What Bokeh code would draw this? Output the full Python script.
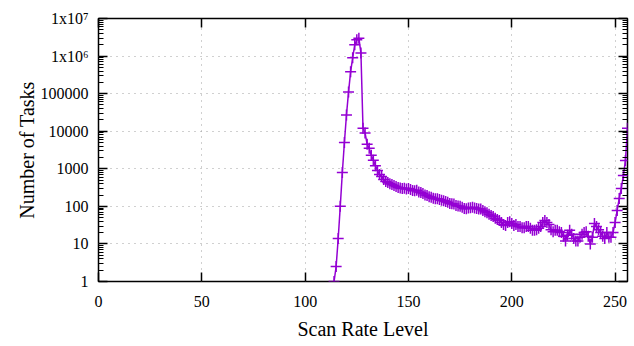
from bokeh.plotting import figure
from bokeh.models import FixedTicker, LogAxis, LinearAxis, Range1d, ColumnDataSource, CustomJSTickFormatter
from bokeh.embed import file_html
from bokeh.resources import INLINE

# Scan rate levels (x) and number of tasks at each level (y)
levels = list(range(114, 257))
tasks = [
    1, 2.5, 14, 100, 800, 5000, 27000, 110000, 380000, 900000,          # 114-123
    2000000, 2700000, 3000000, 1200000, 12000, 9000, 4500, 3500, 2300, 1700,  # 124-133
    1200, 900, 700, 620, 520, 460, 430, 400, 380, 360,                    # 134-143
    340, 320, 310, 300, 305, 290, 300, 280, 265, 260,                     # 144-153
    270, 240, 235, 220, 200, 195, 180, 175, 165, 160,                     # 154-163
    160, 152, 145, 140, 135, 128, 120, 118, 115, 105,                     # 164-173
    102, 100, 95, 88, 87, 90, 92, 95, 90, 88,                             # 174-183
    85, 85, 78, 72, 68, 62, 57, 54, 48, 45,                               # 184-193
    42, 37, 33, 31, 37, 39, 35, 31, 33, 29,                               # 194-203
    29, 27, 27, 29, 29, 26, 23, 23, 24, 26,                               # 204-213
    29, 37, 42, 37, 33, 24, 21, 23, 23, 21,                               # 214-223
    20, 16, 12, 17, 23, 18, 14, 12, 12, 15,                               # 224-233
    18, 20, 21, 16, 10, 15, 35, 29, 24, 20,                               # 234-243
    16, 14, 20, 15, 15, 20, 37, 78, 162, 300,                             # 244-253
    660, 1650, 12000,                                                     # 254-256
]

x_ticks = [0, 50, 100, 150, 200, 250]
y_ticks = [1, 10, 100, 1000, 10000, 100000, 1000000, 10000000]
y_tick_labels = ["1", "10", "100", "1000", "10000", "100000", "1x10\u2076", "1x10\u2077"]
y_minor = [m * 10 ** k for k in range(7) for m in range(2, 10)]

FONT = "Liberation Serif"
PURPLE = "#9400d3"

p = figure(
    frame_width=529, frame_height=263,
    y_axis_type="log",
    x_range=Range1d(0, 256), y_range=Range1d(1, 1e7),
    output_backend="svg", toolbar_location=None,
    min_border_left=98, min_border_right=4, min_border_top=18, min_border_bottom=57,
    background_fill_color="white", border_fill_color="white",
)

xt = FixedTicker(ticks=x_ticks, minor_ticks=[])
yt = FixedTicker(ticks=y_ticks, minor_ticks=y_minor)

p.xaxis.ticker = xt
p.yaxis.ticker = yt
p.yaxis.major_label_overrides = {t: l for t, l in zip(y_ticks, y_tick_labels)}

for ax in (p.xaxis[0], p.yaxis[0]):
    ax.major_tick_in = 9
    ax.major_tick_out = 0
    ax.minor_tick_in = 5
    ax.minor_tick_out = 0
    ax.major_tick_line_color = "black"
    ax.minor_tick_line_color = "black"
    ax.major_tick_line_width = 1.5
    ax.axis_line_color = None
    ax.major_label_text_font = FONT
    ax.major_label_text_font_size = "16px"
    ax.major_label_text_color = "black"
    ax.axis_label_text_font = FONT
    ax.axis_label_text_font_size = "20px"
    ax.axis_label_text_font_style = "normal"
    ax.axis_label_text_color = "black"

p.xaxis.axis_label = "Scan Rate Level"
p.yaxis.axis_label = "Number of Tasks"
p.xaxis.major_label_standoff = 14
p.yaxis.major_label_standoff = 10
p.xaxis.axis_label_standoff = 8
p.yaxis.axis_label_standoff = 0

# Mirrored axes (ticks only) on the right and top
blank = CustomJSTickFormatter(code="return '';")
ra = LogAxis(ticker=yt, formatter=blank)
ta = LinearAxis(ticker=xt, formatter=blank)
for ax in (ra, ta):
    ax.major_tick_in = 9
    ax.major_tick_out = 0
    ax.minor_tick_in = 5
    ax.minor_tick_out = 0
    ax.major_tick_line_width = 1.5
    ax.axis_line_color = None
    ax.major_label_standoff = 0
p.add_layout(ra, "right")
p.add_layout(ta, "above")

p.grid.grid_line_color = "#a0a0a0"
p.grid.grid_line_dash = "1 5"
p.grid.grid_line_width = 1
p.xgrid.ticker = FixedTicker(ticks=x_ticks[1:])
p.ygrid.ticker = FixedTicker(ticks=y_ticks[1:-1])

p.outline_line_color = "black"
p.outline_line_width = 1.5
p.outline_line_alpha = 1

src = ColumnDataSource(dict(x=levels, y=tasks))
p.line("x", "y", source=src, line_color=PURPLE, line_width=1.5)
p.scatter("x", "y", source=src, marker="cross", size=11, line_color=PURPLE, line_width=1.5)

open("out.html", "w").write(file_html(p, INLINE))
